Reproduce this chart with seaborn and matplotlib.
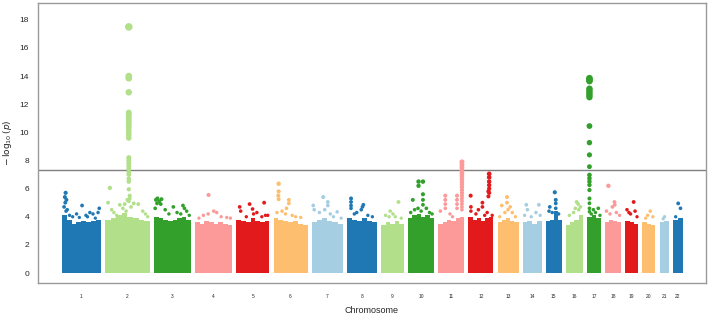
import numpy as np
import pandas as pd
import seaborn as sns
import matplotlib
matplotlib.use("Agg")
import matplotlib.pyplot as plt

# --- data

chroms = list(range(1, 23))
# relative width of each chromosome block (number of SNPs, arbitrary units)
chrom_width = [39, 45, 37, 37, 33, 34, 31, 30, 23, 26, 26,
               25, 21, 19, 16, 17, 14, 16, 13, 13, 9, 10]

# height of the dense (solid) part of each chromosome, left to right
bulk_top = {
    1: [4.1, 3.8, 3.5, 3.6, 3.7, 3.6, 3.7, 3.8],
    2: [3.8, 3.9, 4.1, 4.3, 4.0, 3.9, 3.8, 3.7],
    3: [4.0, 3.9, 3.8, 3.7, 3.8, 3.9, 4.0, 3.8],
    4: [3.6, 3.5, 3.7, 3.6, 3.5, 3.6, 3.5, 3.4],
    5: [3.8, 3.7, 3.6, 3.9, 3.7, 3.6, 3.7],
    6: [3.9, 3.8, 3.7, 3.6, 3.7, 3.5, 3.4],
    7: [3.6, 3.8, 3.9, 3.7, 3.6, 3.5],
    8: [3.9, 3.8, 3.7, 3.9, 3.7, 3.6],
    9: [3.4, 3.6, 3.5, 3.7, 3.5],
    10: [3.9, 4.1, 4.2, 4.0, 4.1, 3.9],
    11: [3.5, 3.6, 3.8, 3.7, 3.9, 4.0],
    12: [4.0, 3.8, 3.9, 3.7, 3.9, 4.0],
    13: [3.6, 3.8, 3.9, 3.7, 3.6],
    14: [3.6, 3.7, 3.5, 3.7],
    15: [3.7, 3.8, 4.4, 3.8],
    16: [3.4, 3.6, 3.8, 4.1],
    17: [4.0, 4.1, 3.9],
    18: [3.6, 3.8, 3.7, 3.6],
    19: [3.7, 3.6, 3.5],
    20: [3.6, 3.5, 3.4],
    21: [3.6, 3.7],
    22: [3.8, 3.9],
}

# single SNPs above the dense part: (position within chromosome 0..1, -log10 p)
hits = {
    1: [(0.10, 5.7), (0.08, 5.4), (0.12, 5.2), (0.09, 5.0), (0.06, 4.7), (0.14, 4.5),
        (0.11, 4.4), (0.52, 4.8), (0.38, 4.2), (0.62, 4.1), (0.72, 4.3), (0.80, 4.2),
        (0.96, 4.6), (0.93, 4.3), (0.28, 4.0), (0.66, 4.0), (0.20, 4.1), (0.45, 3.95),
        (0.86, 3.9)],
    2: [(0.53, 17.5), (0.53, 14.0), (0.53, 13.85), (0.53, 12.85), (0.53, 11.4),
        (0.53, 11.2), (0.53, 11.0), (0.53, 10.8), (0.53, 10.6), (0.53, 10.4),
        (0.53, 10.2), (0.53, 10.0), (0.53, 9.8), (0.53, 9.6), (0.53, 8.2), (0.53, 8.0),
        (0.53, 7.8), (0.53, 7.6), (0.53, 7.4), (0.53, 7.2), (0.53, 7.0), (0.53, 6.7),
        (0.53, 6.5), (0.53, 5.95), (0.55, 5.5), (0.55, 5.3), (0.53, 5.1),
        (0.11, 6.05), (0.07, 5.0), (0.33, 4.85), (0.40, 4.6), (0.44, 4.9), (0.47, 4.4),
        (0.50, 5.2), (0.58, 4.7), (0.64, 4.95), (0.74, 4.9), (0.84, 4.4), (0.90, 4.2),
        (0.20, 4.3), (0.26, 4.1), (0.95, 4.0), (0.15, 4.5)],
    3: [(0.05, 5.2), (0.09, 5.3), (0.14, 5.1), (0.08, 4.95), (0.20, 5.25), (0.18, 4.9),
        (0.03, 4.6), (0.30, 4.5), (0.52, 4.7), (0.62, 4.3), (0.78, 4.8), (0.82, 4.6),
        (0.88, 4.4), (0.72, 4.2), (0.40, 4.2), (0.95, 4.1)],
    4: [(0.36, 5.55), (0.50, 4.4), (0.35, 4.2), (0.58, 4.3), (0.70, 4.0), (0.22, 4.1),
        (0.85, 3.95), (0.95, 3.9), (0.10, 3.9)],
    5: [(0.40, 4.9), (0.84, 5.0), (0.49, 4.55), (0.10, 4.7), (0.13, 4.4), (0.52, 4.2),
        (0.77, 4.0), (0.88, 4.1), (0.30, 4.0), (0.62, 4.3), (0.95, 4.1)],
    6: [(0.15, 6.35), (0.15, 5.8), (0.14, 5.5), (0.15, 5.25), (0.45, 5.2), (0.45, 4.95),
        (0.38, 4.6), (0.35, 4.2), (0.55, 4.1), (0.10, 4.3), (0.80, 3.95), (0.25, 4.4),
        (0.65, 4.0)],
    7: [(0.37, 5.4), (0.52, 5.05), (0.52, 4.8), (0.42, 4.5), (0.05, 4.8), (0.08, 4.5),
        (0.82, 4.35), (0.70, 4.0), (0.25, 4.3), (0.60, 4.2), (0.95, 3.9)],
    8: [(0.14, 5.3), (0.14, 5.05), (0.14, 4.8), (0.14, 4.6), (0.33, 4.3), (0.55, 4.85),
        (0.52, 4.7), (0.48, 4.5), (0.70, 4.1), (0.85, 4.0), (0.25, 4.2)],
    9: [(0.76, 5.05), (0.40, 4.4), (0.52, 4.2), (0.20, 4.1), (0.35, 4.0), (0.62, 4.0),
        (0.88, 3.9)],
    10: [(0.40, 6.5), (0.57, 6.5), (0.40, 6.2), (0.18, 5.2), (0.57, 5.6), (0.57, 5.2),
         (0.57, 4.85), (0.38, 4.6), (0.70, 4.6), (0.82, 4.3), (0.10, 4.3), (0.50, 4.4),
         (0.25, 4.5), (0.92, 4.2)],
    11: [(0.27, 5.5), (0.27, 5.2), (0.27, 4.9), (0.27, 4.6), (0.72, 5.5), (0.72, 5.2),
         (0.72, 4.9), (0.72, 4.6), (0.91, 7.9), (0.91, 7.7), (0.91, 7.5), (0.91, 7.3),
         (0.91, 7.1), (0.91, 6.9), (0.91, 6.7), (0.91, 6.5), (0.91, 6.3), (0.91, 6.1),
         (0.91, 5.9), (0.91, 5.7), (0.91, 5.5), (0.91, 5.3), (0.91, 5.1), (0.91, 4.9),
         (0.91, 4.7), (0.91, 4.5), (0.08, 4.4), (0.45, 4.2), (0.55, 4.0)],
    12: [(0.09, 5.5), (0.83, 7.05), (0.83, 6.8), (0.83, 6.5), (0.83, 6.25), (0.83, 6.0),
         (0.80, 5.8), (0.83, 5.7), (0.80, 5.45), (0.56, 5.0), (0.56, 4.7), (0.40, 4.5),
         (0.10, 4.7), (0.10, 4.4), (0.75, 4.3), (0.30, 4.2), (0.95, 4.1), (0.65, 4.1)],
    13: [(0.45, 5.4), (0.20, 4.8), (0.45, 5.0), (0.60, 4.7), (0.50, 4.5), (0.70, 4.3),
         (0.35, 4.3), (0.85, 4.0), (0.10, 4.0)],
    14: [(0.19, 4.85), (0.85, 4.85), (0.25, 4.5), (0.70, 4.3), (0.45, 4.0), (0.92, 4.1),
         (0.10, 4.1)],
    15: [(0.56, 5.74), (0.62, 5.2), (0.62, 4.95), (0.62, 4.6), (0.25, 4.7), (0.20, 4.4),
         (0.80, 4.2), (0.40, 4.3)],
    16: [(0.63, 5.05), (0.72, 4.9), (0.55, 4.6), (0.45, 4.3), (0.20, 4.1), (0.85, 4.7),
         (0.75, 4.5)],
    17: [(0.17, 13.85), (0.17, 13.75), (0.17, 13.65), (0.17, 13.1), (0.17, 12.95),
         (0.17, 12.8), (0.17, 12.65), (0.17, 12.5), (0.17, 10.45), (0.17, 9.27),
         (0.17, 8.4), (0.17, 7.56), (0.17, 6.97), (0.17, 6.73), (0.17, 6.5), (0.17, 6.26),
         (0.17, 5.9), (0.17, 5.3), (0.17, 4.96), (0.17, 4.6), (0.17, 4.36),
         (0.45, 4.5), (0.60, 4.3), (0.80, 4.6), (0.30, 4.2), (0.92, 4.1)],
    18: [(0.20, 6.2), (0.58, 5.05), (0.60, 4.85), (0.08, 4.4), (0.45, 4.7), (0.70, 4.3),
         (0.30, 4.2), (0.90, 4.1)],
    19: [(0.64, 5.05), (0.13, 4.5), (0.40, 4.2), (0.75, 4.4), (0.28, 4.3), (0.90, 4.0)],
    20: [(0.60, 4.4), (0.40, 4.1), (0.25, 3.9), (0.80, 4.0)],
    21: [(0.55, 4.0), (0.40, 3.85)],
    22: [(0.55, 4.95), (0.78, 4.6), (0.30, 4.0)],
}

threshold = -np.log10(5e-8)

# --- layout along the x axis
gap = 4.1
starts = np.concatenate([[0], np.cumsum(np.array(chrom_width) + gap)[:-1]])
centers = starts + np.array(chrom_width) / 2

pal = sns.color_palette("Paired", 7)
cycle = [pal[1], pal[2], pal[3], pal[4], pal[5], pal[6], pal[0]]
colors = {c: cycle[(c - 1) % 7] for c in chroms}

rows = []
for i, c in enumerate(chroms):
    for frac, lp in hits[c]:
        rows.append({"chrom": c, "pos": starts[i] + frac * chrom_width[i], "logp": lp})
df = pd.DataFrame(rows)

sns.set_style("white")
plt.rcParams["font.family"] = ["Liberation Sans", "DejaVu Sans"]

fig = plt.figure(figsize=(7.09, 3.19), dpi=100)
ax = fig.add_axes([0.0529, 0.1129, 0.9429, 0.8777])

# dense lower part drawn as blocks
for i, c in enumerate(chroms):
    prof = bulk_top[c]
    w = chrom_width[i] / len(prof)
    lefts = starts[i] + np.arange(len(prof)) * w
    ax.bar(lefts, prof, width=w, align="edge", color=colors[c], linewidth=0)

sns.scatterplot(data=df, x="pos", y="logp", hue="chrom", palette=colors,
                size="logp", sizes=(5, 30), size_norm=(3.5, 17.5),
                linewidth=0, legend=False, ax=ax, zorder=3)

ax.axhline(threshold, color="#7f7f7f", lw=1)

ax.set_xlim(-24.2, starts[-1] + chrom_width[-1] + 23.3)
ax.set_ylim(-0.71, 19.2)
ax.set_yticks(range(0, 19, 2))
ax.set_xticks(centers)
ax.set_xticklabels([str(c) for c in chroms], fontsize=3.5)
ax.tick_params(axis="y", labelsize=6, length=3, width=0.7, color="#555555", pad=3)
ax.tick_params(axis="x", length=3, width=0.7, color="#555555", pad=5)
ax.set_xlabel("Chromosome", fontsize=6.5, labelpad=5)
ax.set_ylabel(r"$-\,\log_{10}(p)$", fontsize=6.5, labelpad=4)
for s in ax.spines.values():
    s.set_color("#9a9a9a")
    s.set_linewidth(1)

plt.savefig("out.png", dpi=100)
